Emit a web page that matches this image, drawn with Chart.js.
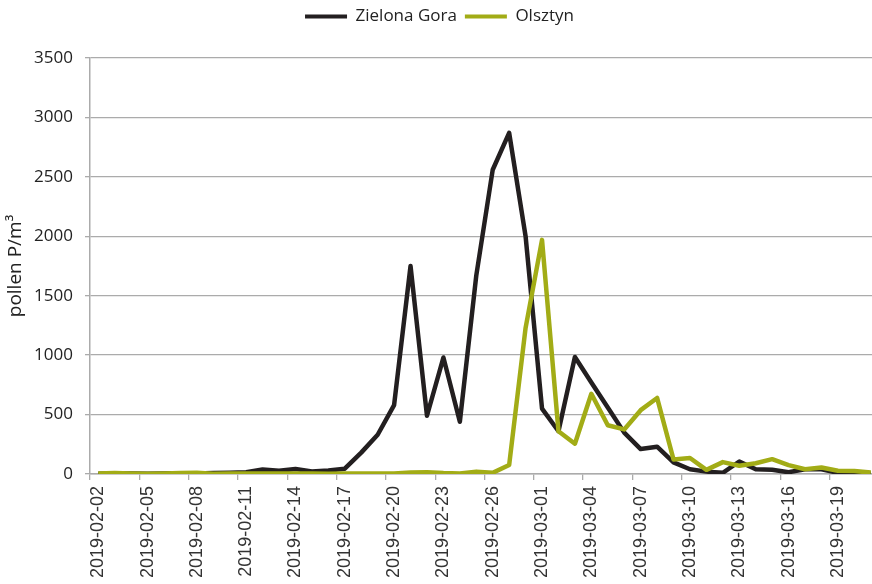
<!DOCTYPE html>
<html>
<head>
    <title>Pollen P/m3 - Zielona Gora vs Olsztyn</title>
    <script src="https://cdn.jsdelivr.net/npm/chart.js"></script>
    <style>
        html, body {
            margin: 0;
            padding: 0;
            overflow: hidden;
            background: #fff;
        }

        #chart {
            display: block;
        }
    </style>
</head>
<body>
    <!-- plot runs a few px past the window on the right, like the cropped original -->
    <canvas id="chart" width="880" height="584"></canvas>

    <script>
        const dates = [
            '2019-02-02', '2019-02-03', '2019-02-04', '2019-02-05', '2019-02-06', '2019-02-07',
            '2019-02-08', '2019-02-09', '2019-02-10', '2019-02-11', '2019-02-12', '2019-02-13',
            '2019-02-14', '2019-02-15', '2019-02-16', '2019-02-17', '2019-02-18', '2019-02-19',
            '2019-02-20', '2019-02-21', '2019-02-22', '2019-02-23', '2019-02-24', '2019-02-25',
            '2019-02-26', '2019-02-27', '2019-02-28', '2019-03-01', '2019-03-02', '2019-03-03',
            '2019-03-04', '2019-03-05', '2019-03-06', '2019-03-07', '2019-03-08', '2019-03-09',
            '2019-03-10', '2019-03-11', '2019-03-12', '2019-03-13', '2019-03-14', '2019-03-15',
            '2019-03-16', '2019-03-17', '2019-03-18', '2019-03-19', '2019-03-20', '2019-03-21'
        ];

        const zielonaGora = [
            3, 2, 4, 3, 5, 6, 4, 8, 10, 15, 38, 28, 42, 22, 30, 45,
            180, 330, 580, 1750, 490, 980, 440, 1670, 2560, 2870, 2000, 550,
            360, 985, 770, 560, 348, 210, 230, 98, 40, 20, 10, 105,
            40, 35, 15, 40, 40, 10, 5, 5
        ];

        const olsztyn = [
            5, 8, 5, 3, 5, 8, 10, 3, 5, 5, 5, 5, 5, 5, 3, 5,
            5, 5, 5, 12, 15, 8, 5, 20, 10, 75, 1230, 1970,
            360, 255, 675, 410, 375, 537, 640, 122, 135, 35, 100, 70,
            90, 125, 75, 40, 55, 28, 25, 12
        ];

        const yTicks = [0, 500, 1000, 1500, 2000, 2500, 3000, 3500];

        const black = '#231f20';
        const green = '#a2ac16';
        const gray = '#ababab';

        // legend box gets a fixed height so the plot starts lower, as in the original
        const legendSpace = {
            id: 'legendSpace',
            beforeLayout(chart) {
                const lg = chart.legend;
                if (lg && !lg._patched) {
                    const fit = lg.fit;
                    lg.fit = function () {
                        fit.call(this);
                        this.height = 58;
                    };
                    lg._patched = true;
                }
            }
        };

        const ctx = document.getElementById('chart').getContext('2d');
        new Chart(ctx, {
            type: 'line',
            data: {
                labels: dates,
                datasets: [{
                    label: 'Zielona Gora',
                    data: zielonaGora,
                    borderColor: black,
                    backgroundColor: black,
                    borderWidth: 4.5,
                    pointRadius: 0,
                    tension: 0,
                    borderJoinStyle: 'round',
                    order: 1
                }, {
                    label: 'Olsztyn',
                    data: olsztyn,
                    borderColor: green,
                    backgroundColor: green,
                    borderWidth: 4.5,
                    pointRadius: 0,
                    tension: 0,
                    borderJoinStyle: 'round',
                    order: 0 // green drawn on top, like the original
                }]
            },
            plugins: [legendSpace],
            options: {
                responsive: false,
                animation: false,
                layout: {
                    padding: { top: 0, right: 1, left: 0, bottom: 0 }
                },
                plugins: {
                    tooltip: { enabled: false },
                    legend: {
                        position: 'top',
                        labels: {
                            boxWidth: 42,
                            boxHeight: 4,
                            padding: 8,
                            color: '#222',
                            font: { family: 'Open Sans', size: 17 },
                            generateLabels: chart =>
                                Chart.defaults.plugins.legend.labels.generateLabels(chart)
                                    .map(l => ({ ...l, lineWidth: 0, fillStyle: l.strokeStyle }))
                                    .sort((a, b) => a.datasetIndex - b.datasetIndex)
                        }
                    }
                },
                scales: {
                    x: {
                        type: 'category',
                        offset: true,
                        grid: {
                            offset: true,
                            drawOnChartArea: false,
                            tickLength: 6,
                            lineWidth: 1.3,
                            // tick mark every 3rd day only
                            color: c => (c.index % 3 === 0 ? gray : 'rgba(0,0,0,0)')
                        },
                        border: { color: gray, width: 1.5 },
                        ticks: {
                            autoSkip: false,
                            minRotation: 90,
                            maxRotation: 90,
                            padding: 6,
                            color: '#333',
                            font: { family: 'Liberation Sans', size: 18 },
                            callback: function (v, i) {
                                return i % 3 === 0 ? this.getLabelForValue(v) : '';
                            }
                        },
                        afterFit: s => {
                            s.height = 110;
                            s.paddingLeft = 0;
                            s.paddingRight = 0;
                        }
                    },
                    y: {
                        min: 0,
                        max: 3500,
                        afterBuildTicks: s => { s.ticks = yTicks.map(v => ({ value: v })); },
                        ticks: {
                            padding: 12,
                            color: '#222',
                            font: { family: 'Open Sans', size: 17 },
                            callback: v => String(v)
                        },
                        grid: { color: gray, lineWidth: 1.3, tickLength: 5 },
                        border: { color: gray, width: 1.5 },
                        title: {
                            display: true,
                            text: 'pollen P/m³',
                            color: '#222',
                            font: { family: 'Open Sans', size: 19 },
                            padding: { top: 4, bottom: 0 }
                        },
                        afterFit: s => { s.width = 90; }
                    }
                }
            }
        });
    </script>
</body>
</html>
